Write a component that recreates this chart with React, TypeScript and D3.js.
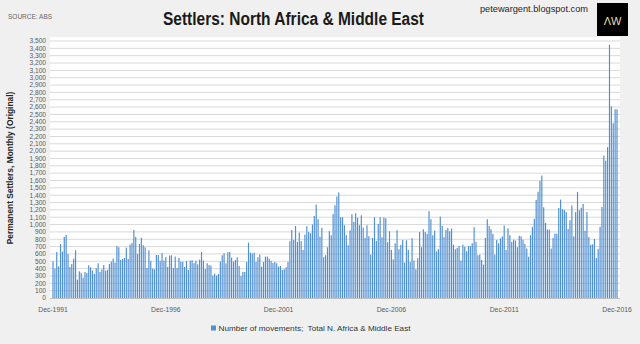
import React from "react";
import * as d3 from "d3";

// Monthly categories Dec-1991 .. Dec-2016
const CATEGORIES: string[] = d3
  .timeMonth.range(new Date(1991, 11, 1), new Date(2017, 0, 1))
  .map((d) => d3.timeFormat("%b-%Y")(d));

const VALUES: number[] = [
  500, 400, 627, 430, 736, 632, 832, 859, 600, 423, 464, 536, 650, 250, 364, 345, 277, 355, 340, 445,
  418, 373, 327, 405, 473, 355, 390, 450, 373, 382, 464, 495, 536, 482, 709, 691, 518, 532, 545, 686,
  532, 727, 750, 927, 832, 600, 736, 818, 718, 691, 409, 650, 505, 400, 390, 586, 586, 505, 614, 509,
  559, 423, 577, 582, 409, 564, 409, 545, 495, 495, 423, 505, 382, 509, 514, 473, 509, 459, 523, 627,
  509, 395, 473, 450, 441, 305, 332, 305, 327, 495, 582, 609, 473, 623, 627, 550, 495, 518, 555, 436,
  300, 355, 355, 491, 755, 618, 605, 618, 491, 555, 591, 427, 491, 564, 564, 536, 505, 477, 491, 473,
  427, 436, 382, 391, 418, 491, 773, 927, 791, 982, 764, 891, 773, 655, 864, 977, 900, 882, 1000, 1118,
  1273, 1073, 836, 955, 555, 582, 691, 909, 855, 1145, 1264, 1382, 1436, 1100, 1100, 991, 855, 718, 923, 1141,
  1036, 1155, 1091, 991, 1127, 959, 818, 991, 841, 591, 818, 1100, 777, 1009, 1100, 827, 1095, 1086, 759, 909,
  655, 527, 745, 923, 664, 723, 791, 482, 786, 655, 491, 814, 509, 391, 541, 900, 691, 936, 900, 873,
  1182, 1073, 855, 918, 636, 664, 1109, 982, 827, 927, 955, 909, 945, 727, 664, 682, 709, 509, 727, 700,
  636, 709, 709, 745, 964, 764, 582, 591, 518, 455, 818, 1073, 982, 936, 873, 591, 791, 745, 811, 839,
  986, 654, 949, 857, 765, 793, 783, 691, 848, 839, 793, 737, 673, 562, 857, 968, 1078, 1336, 1447, 1594,
  1668, 1235, 1023, 931, 931, 673, 820, 876, 876, 1226, 1340, 1210, 1200, 1170, 940, 1060, 1260, 840, 1170, 1445,
  1195, 1230, 1280, 915, 1170, 830, 725, 730, 805, 545, 670, 970, 1240, 1940, 1870, 2055, 3450, 2610, 2380, 2570,
  2570,
];

const X_TICK_LABELS = ["Dec-1991", "Dec-1996", "Dec-2001", "Dec-2006", "Dec-2011", "Dec-2016"];
const Y_TICKS: number[] = d3.range(0, 3501, 100);

const TITLE = "Settlers: North Africa & Middle East";
const SOURCE = "SOURCE: ABS";
const SITE = "petewargent.blogspot.com";
const Y_TITLE = "Permanent Settlers, Monthly (Original)";
const LEGEND = "Number of movements;  Total N. Africa & Middle East";

const W = 640;
const H = 344;

export default function App() {
  const x = d3.scalePoint<string>().domain(CATEGORIES).range([53, 617]);
  const y = d3.scaleLinear().domain([0, 3500]).range([298, 41]);
  const step = x.step();
  const bw = step * 0.62;
  const fmt = d3.format(",");
  const plotL = 50;
  const plotR = 620;

  return (
    <svg
      width={W}
      height={H}
      style={{ position: "absolute", left: 0, top: 0, display: "block" }}
      fontFamily="'Liberation Sans', Arial, sans-serif"
    >
      <rect x={0} y={0} width={W} height={H} fill="#f0f0f0" />
      <rect x={plotL} y={37} width={plotR - plotL} height={262} fill="#ffffff" />

      {Y_TICKS.filter((t) => t > 0).map((t) => (
        <line key={"g" + t} x1={plotL} x2={plotR} y1={y(t)} y2={y(t)} stroke="#d9d9d9" strokeWidth={1} />
      ))}

      {VALUES.map((v, i) => (
        <rect
          key={i}
          x={(x(CATEGORIES[i]) as number) - bw / 2}
          y={y(v)}
          width={bw}
          height={y(0) - y(v)}
          fill="#4f8fd2"
        />
      ))}

      <line x1={plotL} x2={plotR} y1={y(0) + 0.5} y2={y(0) + 0.5} stroke="#bfbfbf" strokeWidth={1} />

      {Y_TICKS.map((t) => (
        <text key={"t" + t} x={46} y={y(t)} dy="0.35em" textAnchor="end" fontSize={6.6} fill="#595959">
          {fmt(t)}
        </text>
      ))}

      {X_TICK_LABELS.map((l) => (
        <text key={l} x={x(l) as number} y={312} textAnchor="middle" fontSize={6.8} fill="#595959">
          {l}
        </text>
      ))}

      <text
        transform={`translate(13, 168) rotate(-90)`}
        textAnchor="middle"
        fontSize={8.4}
        fontWeight="bold"
        fill="#262626"
      >
        {Y_TITLE}
      </text>

      <text
        x={163}
        y={25}
        fontSize={18}
        textLength={261}
        lengthAdjust="spacingAndGlyphs"
        fill="#1a1a1a"
        fontFamily="'Liberation Sans Narrow', 'Liberation Sans', Arial, sans-serif"
        fontWeight="bold"
      >
        {TITLE}
      </text>

      <text x={8} y={19} fontSize={6.5} fill="#666666">
        {SOURCE}
      </text>

      <text x={480} y={12} fontSize={9} textLength={108} lengthAdjust="spacingAndGlyphs" fill="#262626">
        {SITE}
      </text>

      <rect x={597} y={3} width={31} height={33} fill="#000000" />
      <text x={612.5} y={25} textAnchor="middle" fontSize={11} fill="#e8dca8">
        ΛW
      </text>

      <rect x={211} y={325.5} width={5} height={5} fill="#4f8fd2" />
      <text
        x={218.5}
        y={331}
        fontSize={8}
        fill="#333333"
        textLength={192}
        lengthAdjust="spacingAndGlyphs"
        style={{ whiteSpace: "pre" }}
      >
        {LEGEND}
      </text>
    </svg>
  );
}
